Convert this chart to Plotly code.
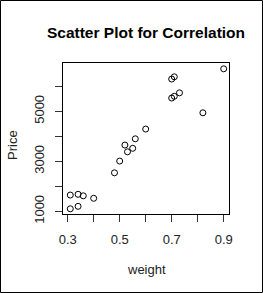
import plotly.graph_objects as go

weight = [0.90, 0.70, 0.71, 0.70, 0.71, 0.73, 0.82, 0.60, 0.56, 0.52, 0.55, 0.53,
          0.50, 0.48, 0.31, 0.34, 0.36, 0.40, 0.31, 0.34]
price = [6700, 6290, 6380, 5530, 5600, 5740, 4940, 4290, 3900, 3650, 3520, 3380,
         3010, 2540, 1650, 1680, 1620, 1520, 1100, 1200]

x_ticks = [0.3, 0.4, 0.5, 0.6, 0.7, 0.8, 0.9]
x_labels = ["0.3", "", "0.5", "", "0.7", "", "0.9"]
y_ticks = [1000, 2000, 3000, 4000, 5000, 6000]
y_labels = ["1000", "", "3000", "", "5000", ""]

W, H = 263, 293
L, R, T, B = 63, 34, 63, 79
pw, ph = W - L - R, H - T - B

font = "Liberation Sans, Arial, sans-serif"

fig = go.Figure(go.Scatter(
    x=weight, y=price, mode="markers",
    marker=dict(symbol="circle-open", size=6, color="black", line=dict(width=1)),
))

axis_common = dict(
    showline=True, linecolor="black", linewidth=1, mirror=True,
    ticks="outside", ticklen=7, tickcolor="#333", tickwidth=1,
    showgrid=False, zeroline=False,
    tickfont=dict(family=font, size=13, color="#222"),
)
fig.update_xaxes(range=[0.282, 0.9204], tickvals=x_ticks, ticktext=x_labels,
                 ticklabelstandoff=6, **axis_common)
fig.update_yaxes(range=[892, 6932], tickvals=y_ticks, ticktext=y_labels,
                 tickangle=-90, ticklabelstandoff=6, **axis_common)

fig.update_layout(
    width=W, height=H, margin=dict(l=L, r=R, t=T, b=B),
    paper_bgcolor="white", plot_bgcolor="white", showlegend=False,
    title=dict(text="<b>Scatter Plot for Correlation</b>", x=(146) / W, xanchor="center",
               y=1 - 33 / H, yanchor="middle",
               font=dict(family=font, size=15.5, color="black")),
    annotations=[
        dict(text="weight", xref="paper", yref="paper", x=(146 - L) / pw,
             y=-(269 - (H - B)) / ph, xanchor="center", yanchor="middle",
             showarrow=False, font=dict(family=font, size=13, color="#222")),
        dict(text="Price", xref="paper", yref="paper", x=-(L - 12) / pw,
             y=(H - B - 145) / ph, xanchor="center", yanchor="middle", textangle=-90,
             showarrow=False, font=dict(family=font, size=13, color="#222")),
    ],
    shapes=[dict(type="rect", xref="paper", yref="paper",
                 x0=-(L - 0.5) / pw, x1=1 + (R - 0.5) / pw,
                 y0=-(B - 0.5) / ph, y1=1 + (T - 0.5) / ph,
                 line=dict(color="black", width=1))],
)

fig.write_html("out.html")
